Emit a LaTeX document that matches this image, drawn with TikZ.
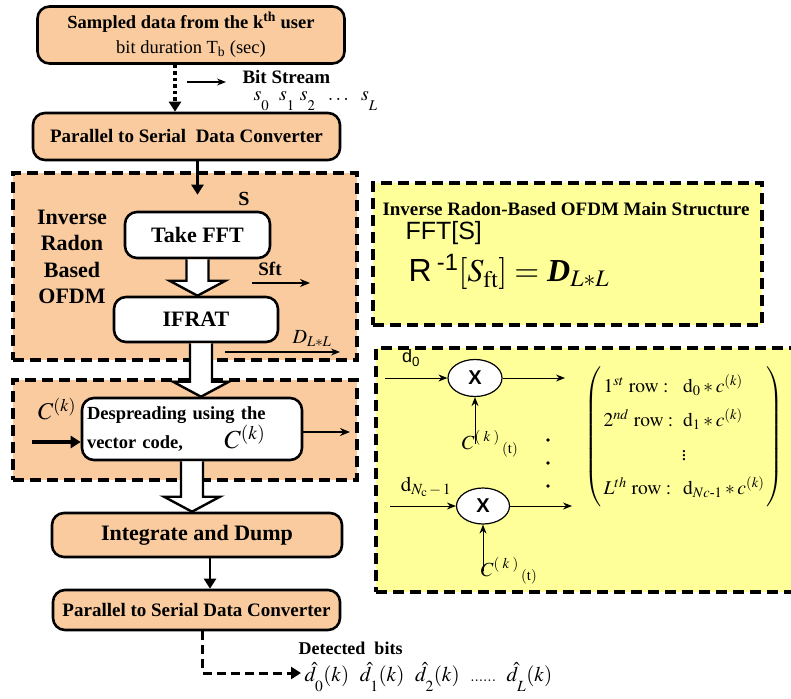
\documentclass[tikz,border=0pt]{standalone}
\usepackage{amsmath}
\usepackage{mathptmx}
\usepackage{fontspec}
\setmainfont{Liberation Serif}
\setsansfont{Liberation Sans}
\usetikzlibrary{shapes.geometric, arrows.meta, positioning, calc}

\definecolor{peach}{RGB}{249,203,158}
\definecolor{notey}{RGB}{255,255,153}

\tikzset{
  flowbox/.style={
    draw, rounded corners=12pt, line width=2.6pt, fill=peach, align=center,
    font=\bfseries\fontsize{19}{22}\selectfont, inner sep=2pt
  },
  stagebox/.style={flowbox, fill=white},
  regionbox/.style={
    draw, fill=peach, line width=3.8pt, dash pattern=on 11pt off 6pt
  },
  notebox/.style={regionbox, fill=notey, line width=3.2pt},
  flowarrow/.style={-{Triangle[length=10pt,width=12pt]}, line width=2.6pt},
  dotarrow/.style={flowarrow, line width=3.6pt, dash pattern=on 3.5pt off 3pt},
  dasharrow/.style={flowarrow, line width=3pt, dash pattern=on 9pt off 5pt},
  thinarrow/.style={-{Stealth[length=9pt,width=7pt]}, line width=1pt},
  medarrow/.style={-{Stealth[length=10pt,width=8pt]}, line width=2pt},
  hollow/.style={draw, fill=white, line width=2.4pt, line join=miter},
  mulnode/.style={
    draw, ellipse, fill=white, line width=1.2pt, inner sep=0pt,
    font=\sffamily\bfseries\fontsize{20}{20}\selectfont
  },
  notelabel/.style={font=\fontsize{20}{22}\selectfont},
}

% subscripts set low, as in the stream labels
\newcommand{\lowsub}[1]{\raisebox{-7pt}{$\scriptstyle #1$}}
% hollow block arrow between two stages
\newcommand{\hollowarrow}[2]{%
  \path[hollow] let \p1=(#1), \p2=(#2) in
    (\x1-11pt,\y1) -- (\x1-11pt,\y2+15pt) -- (\x1-28pt,\y2+15pt) -- (\x1,\y2)
    -- (\x1+28pt,\y2+15pt) -- (\x1+11pt,\y2+15pt) -- (\x1+11pt,\y1);}

\begin{document}
\begin{tikzpicture}[x=1pt, y=-1pt]
  \useasboundingbox (0,0) rectangle (791,698);
  \clip (0,0) rectangle (791,698);

  % ── Dashed regions ──
  \node[regionbox, minimum width=344pt, minimum height=187pt] (ofdmreg) at (185,266.5) {};
  \node[regionbox, minimum width=344pt, minimum height=100pt] (despreg) at (185,430) {};
  \node[notebox, minimum width=389pt, minimum height=142pt] (mainnote) at (567.5,254) {};
  \node[notebox, minimum width=430pt, minimum height=244pt] (codenote) at (591,470) {};

  % ── Transmitter chain ──
  \node[flowbox, font=\bfseries\fontsize{18.5}{25}\selectfont,
    minimum width=307pt, minimum height=57pt] (samp) at (191,35)
    {Sampled data from the k\textsuperscript{th} user\\
     {\mdseries bit duration T\textsubscript{b} (sec)}};
  \node[flowbox, minimum width=307pt, minimum height=47pt] (p2s) at (186.5,136.5)
    {Parallel to Serial\ \ Data Converter};

  \node[font=\bfseries\fontsize{19}{21}\selectfont, anchor=west] (bitstream) at (239,77) {Bit Stream};
  \node[font=\fontsize{20}{22}\selectfont, anchor=west] (bits) at (250,101)
    {$s_{\lowsub{0}}\ \ s_{\lowsub{1}}\ s_{\lowsub{2}}\ \ \dots\ \ s_{\lowsub{L}}$};
  \coordinate (bsa) at (187,82);

  \draw[dotarrow] ([xshift=-16pt]samp.south) -- ([xshift=-16pt]samp.south |- p2s.north);
  \draw[thinarrow, line width=1.3pt, shorten >=13pt] (bsa) -- (bsa -| bitstream.west);

  % ── Inverse Radon based OFDM ──
  \node[font=\bfseries\fontsize{22}{26.5}\selectfont, align=center] (ofdmlab) at (72,257)
    {Inverse\\Radon\\Based\\OFDM};
  \node[font=\bfseries\fontsize{20}{22}\selectfont] (slab) at (244,199) {S};
  \node[stagebox, font=\bfseries\fontsize{22}{24}\selectfont,
    minimum width=145pt, minimum height=46pt] (fft) at (197.5,235) {Take FFT};
  \node[stagebox, font=\bfseries\fontsize{22}{24}\selectfont,
    minimum width=164pt, minimum height=45pt] (ifrat) at (196,319.5) {IFRAT};
  \node[font=\bfseries\fontsize{19}{21}\selectfont] (sftlab) at (270,269) {Sft};
  \coordinate (sft0) at (252,283);
  \coordinate (sft1) at (310,283);
  \node[font=\fontsize{20}{22}\selectfont] (dlab) at (312,339) {$D_{L*L}$};
  \coordinate (dout0) at (225,352);
  \coordinate (dout1) at (340,352);

  \draw[flowarrow] (p2s.south -| fft.north) -- ([yshift=16pt]fft.north);
  \draw[medarrow] (sft0) -- (sft1);
  \draw[thinarrow, line width=1.4pt] (dout0) -- (dout1);

  % ── Despreading ──
  \node[stagebox, align=left, text width=210pt, font=\bfseries\fontsize{18.5}{25}\selectfont,
    minimum width=220pt, minimum height=62pt] (desp) at (192,429)
    {Despreading using the\\
     vector code, \hspace{1.9em}{\mdseries\fontsize{26}{24}\selectfont$C^{(k)}$}};
  \node[font=\fontsize{24}{26}\selectfont] (cklab) at (57,409) {$C^{(k)}$};
  \coordinate (ckin) at (32,442);
  \coordinate (despout) at (350,432);

  \draw[flowarrow, line width=4.5pt] (ckin) -- (ckin -| desp.west);
  \draw[medarrow] (desp.east |- despout) -- (despout);

  % ── Receiver tail ──
  \node[flowbox, font=\bfseries\fontsize{22}{24}\selectfont,
    minimum width=290pt, minimum height=44pt] (intg) at (197,535) {Integrate and Dump};
  \node[flowbox, minimum width=287pt, minimum height=40pt] (p2s2) at (196.5,610)
    {Parallel to Serial Data Converter};
  \node[font=\bfseries\fontsize{18}{20}\selectfont, anchor=west] (detlab) at (295,648) {Detected\ \ bits};
  \node[font=\fontsize{21}{23}\selectfont, anchor=west] (dhat) at (301,677)
    {$\hat d_{\lowsub{0}}(k)\ \ \hat d_{\lowsub{1}}(k)\ \ \hat d_{\lowsub{2}}(k)\ \ {\scriptstyle\dots\dots}\ \ \hat d_{\lowsub{L}}(k)$};

  \hollowarrow{fft.south}{ifrat.north}
  \hollowarrow{[xshift=5pt]ifrat.south}{desp.north}
  \hollowarrow{desp.south}{intg.north}
  \draw[flowarrow] ([xshift=13pt]intg.south) -- ([xshift=13pt]intg.south |- p2s2.north);
  \draw[dasharrow] ([xshift=6pt]p2s2.south) |- ([yshift=4pt]dhat.west);

  % ── Main structure note ──
  \node[font=\bfseries\fontsize{19}{21}\selectfont] (maintitle) at (566,209)
    {Inverse Radon-Based OFDM Main Structure};
  \node[font=\sffamily\fontsize{25}{27}\selectfont, anchor=west] (fftS) at (402,233) {FFT[S]};
  \node[font=\fontsize{32}{34}\selectfont, anchor=west] (eqn) at (405,272)
    {\textsf{R}\,$^{\textsf{-1}}[S_{\mathrm{ft}}] =$ \textbf{\textit{D}}$_{L*L}$};

  % ── Code multiplication note ──
  \node[mulnode, minimum width=54pt, minimum height=37pt] (mul1) at (475,378) {X};
  \node[mulnode, minimum width=53pt, minimum height=36pt] (mul2) at (483,506) {X};
  \node[font=\sffamily\fontsize{18}{20}\selectfont] (d0lab) at (411,358) {d\textsubscript{0}};
  \node[font=\fontsize{21}{23}\selectfont] (dnlab) at (426,487) {$\mathrm{d}_{N_{\mathrm{c}}\,-\,1}$};
  \node[notelabel] (ck1) at (490,444) {$C^{(\;k\;)}\,{}_{(\mathrm{t})}$};
  \node[notelabel] (ck2) at (509,571) {$C^{(\;k\;)}\,{}_{(\mathrm{t})}$};
  \coordinate (d0in) at (385,378);
  \coordinate (dnin) at (390,506);
  \coordinate (out1) at (565,378);
  \coordinate (out2) at (572,506);
  \foreach \yy in {440,463,486}
    \fill (548,\yy) circle (1.8pt);

  \draw[thinarrow] (d0in) -- (mul1);
  \draw[thinarrow] (mul1) -- (out1);
  \draw[thinarrow] (mul1.south |- ck1.center) -- (mul1.south);
  \draw[thinarrow] (dnin) -- (mul2);
  \draw[thinarrow] (mul2) -- (out2);
  \draw[thinarrow] (mul2.south |- ck2.center) -- (mul2.south);

  \node[font=\fontsize{19.5}{20}\selectfont] (rows) at (684,437)
    {\renewcommand{\arraystretch}{1.7}%
     $\left(\begin{array}{@{\,}l@{\ \ }l@{\,}}
       1^{st}\ \mathrm{row}: & \mathrm{d}_0 * c^{(k)}\\
       2^{nd}\ \mathrm{row}: & \mathrm{d}_1 * c^{(k)}\\
       \multicolumn{2}{c}{\vdots}\\
       L^{th}\ \mathrm{row}: & \mathrm{d}_{Nc\text{-}1} * c^{(k)}
     \end{array}\right)$};
\end{tikzpicture}
\end{document}
